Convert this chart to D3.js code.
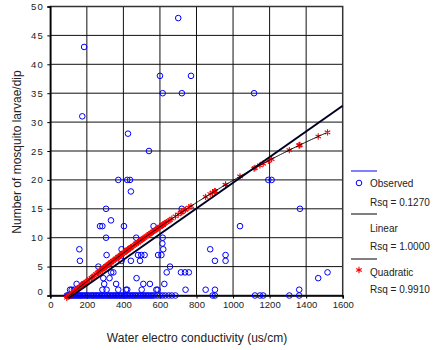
<!DOCTYPE html>
<html>
<head>
<meta charset="utf-8">
<script src="https://cdn.jsdelivr.net/npm/d3@7"></script>
<style>
  body { margin: 0; background: #fff; }
  text { font-family: Arial, "Liberation Sans", sans-serif; }
</style>
</head>
<body>
<div id="chart"></div>
<script>
// observed points (x = conductivity, y = larvae/dip)
var obsHighX = [175, 185, 425, 540, 600, 615, 700, 720, 770, 1115, 372, 421, 436, 1193, 1211, 441, 305, 719, 1366, 332];
var obsHighY = [31, 43, 28, 25, 38, 35, 48, 35, 38, 35, 20, 20, 20, 20, 20, 18, 15, 15, 15, 13];

var obsMidX = [272, 285, 403, 565, 1038, 305, 470, 615, 613, 159, 390, 618, 875,
  308, 480, 498, 516, 590, 608, 959, 162, 390, 441, 491, 901, 959, 263, 655,
  333, 345, 637, 715, 737, 758, 1517, 290, 324, 472, 1466];
var obsMidY = [12, 12, 12, 12, 12, 10, 10, 10, 9, 8, 8, 8, 8,
  7, 7, 7, 7, 7, 7, 7, 6, 6, 6, 6, 6, 6, 5, 5,
  4, 4, 4, 4, 4, 4, 4, 3, 3, 3, 3];

var obsLowX = [144, 181, 295, 360, 509, 545, 624,
  108, 117, 130, 285, 308, 372, 414, 421, 500, 580, 587, 740, 850, 901, 1362];
var obsLowY = [2, 2, 2, 2, 2, 2, 2,
  1, 1, 1, 1, 1, 1, 1, 1, 1, 1, 1, 1, 1, 1, 1];

// zero counts
var obsZeroX = [90, 97, 103, 110, 118, 125, 135, 142, 150, 158, 165, 172, 180, 190, 198,
  205, 215, 225, 232, 240, 250, 258, 265, 275, 283, 292, 300, 310, 318, 326, 335, 343,
  352, 360, 368, 377, 385, 393, 402, 410, 418, 427, 435, 445, 453, 462, 470, 480, 490,
  498, 507, 515, 525, 533, 542, 552, 560, 570, 585, 600, 615, 630, 648, 665, 685,
  888, 901, 1120, 1147, 1165, 1308, 1362];

// fitted models
var linCoef = [-2.7, 0.0222];
var quadCoef = [-2.8, 0.0271, -0.00000438];

var xTicks = [0, 200, 400, 600, 800, 1000, 1200, 1400, 1600];
var yTicks = [0, 5, 10, 15, 20, 25, 30, 35, 40, 45, 50];

var legendItems = ["Observed", "Rsq = 0.1270", "Linear", "Rsq = 1.0000", "Quadratic", "Rsq = 0.9910"];

var observed = [];
function addPts(xs, ys) {
  xs.forEach(function(d, i) { observed.push({x: d, y: ys === null ? 0 : ys[i]}); });
}
addPts(obsZeroX, null);
addPts(obsLowX, obsLowY);
addPts(obsMidX, obsMidY);
addPts(obsHighX, obsHighY);

function quad(x) { return quadCoef[0] + quadCoef[1] * x + quadCoef[2] * x * x; }
function lin(x) { return linCoef[0] + linCoef[1] * x; }

var svg = d3.select("#chart").append("svg")
  .attr("width", 433)
  .attr("height", 350);

var x = d3.scaleLinear().domain([0, 1600]).range([50.3, 342.7]);
var y = d3.scaleLinear().domain([0, 50]).range([295.5, 6.5]);

// grid
svg.append("g").selectAll("line.vg")
  .data(xTicks.slice(1, -1))
  .enter().append("line")
  .attr("x1", function(d) { return x(d); })
  .attr("x2", function(d) { return x(d); })
  .attr("y1", y(0)).attr("y2", y(50))
  .attr("stroke", "#111").attr("stroke-width", 1);

svg.append("g").selectAll("line.hg")
  .data(yTicks.slice(1, -1))
  .enter().append("line")
  .attr("y1", function(d) { return y(d); })
  .attr("y2", function(d) { return y(d); })
  .attr("x1", x(0)).attr("x2", x(1600))
  .attr("stroke", "#111").attr("stroke-width", 1);

// frame
svg.append("rect")
  .attr("x", x(0)).attr("y", y(50))
  .attr("width", x(1600) - x(0))
  .attr("height", y(0) - y(50))
  .attr("fill", "none")
  .attr("stroke", "#333")
  .attr("stroke-width", 1.5);

// axes
var xAxis = svg.append("g")
  .attr("transform", "translate(0," + y(0) + ")")
  .call(d3.axisBottom(x).tickValues(xTicks).tickFormat(d3.format("d")).tickSize(3).tickPadding(3));
xAxis.select(".domain").attr("stroke", "#000").attr("stroke-width", 1.5);
xAxis.selectAll("text").attr("font-size", "9.5px").attr("fill", "#222")
  .attr("font-family", "Arial, 'Liberation Sans', sans-serif");

var yAxis = svg.append("g")
  .attr("transform", "translate(" + x(0) + ",0)")
  .call(d3.axisLeft(y).tickValues(yTicks).tickSize(3).tickPadding(3));
yAxis.select(".domain").attr("stroke", "#000").attr("stroke-width", 1.5);
yAxis.selectAll("text").attr("font-size", "9.5px").attr("fill", "#222")
  .attr("letter-spacing", "1.4px")
  .attr("font-family", "Arial, 'Liberation Sans', sans-serif")
  .attr("dy", function(d) { return d === 0 ? "-0.15em" : "0.32em"; });

// observed circles
svg.append("g").selectAll("circle")
  .data(observed)
  .enter().append("circle")
  .attr("cx", function(d) { return x(d.x); })
  .attr("cy", function(d) { return y(d.y); })
  .attr("r", 2.8)
  .attr("fill", "none")
  .attr("stroke", "#0000ff")
  .attr("stroke-width", 1);

// quadratic predictions
var star = d3.symbol().type(d3.symbolAsterisk).size(28);
svg.append("g").selectAll("path")
  .data(observed)
  .enter().append("path")
  .attr("d", star)
  .attr("transform", function(d) { return "translate(" + x(d.x) + "," + y(quad(d.x)) + ")"; })
  .attr("fill", "none")
  .attr("stroke", "#ff0000")
  .attr("stroke-width", 1.1);

var xs = observed.map(function(d) { return d.x; }).sort(d3.ascending);
var xMin = xs[0], xMax = xs[xs.length - 1];

svg.append("path")
  .datum(d3.range(xMin, xMax + 1, 10))
  .attr("d", d3.line().x(function(d) { return x(d); }).y(function(d) { return y(quad(d)); }))
  .attr("fill", "none")
  .attr("stroke", "#000")
  .attr("stroke-width", 0.9);

svg.append("line")
  .attr("x1", x(100)).attr("y1", y(lin(100)))
  .attr("x2", x(1600)).attr("y2", y(lin(1600)))
  .attr("stroke", "#000022")
  .attr("stroke-width", 2);

// legend
var lg = svg.append("g");
lg.append("line").attr("x1", 351).attr("x2", 377).attr("y1", 171).attr("y2", 171)
  .attr("stroke", "#0000ff").attr("stroke-width", 1);
lg.append("circle").attr("cx", 359).attr("cy", 183).attr("r", 2.8)
  .attr("fill", "none").attr("stroke", "#0000ff");
lg.append("line").attr("x1", 351).attr("x2", 377).attr("y1", 214).attr("y2", 214)
  .attr("stroke", "#000").attr("stroke-width", 1);
lg.append("line").attr("x1", 351).attr("x2", 377).attr("y1", 259).attr("y2", 259)
  .attr("stroke", "#000").attr("stroke-width", 1);
lg.append("path").attr("d", star).attr("transform", "translate(359,270)")
  .attr("fill", "none").attr("stroke", "#ff0000").attr("stroke-width", 1.1);

var legY = [183, 202, 228, 246, 272, 289];
lg.selectAll("text")
  .data(legendItems)
  .enter().append("text")
  .attr("x", 370)
  .attr("y", function(d, i) { return legY[i]; })
  .attr("dy", "0.35em")
  .attr("font-size", "10px")
  .attr("fill", "#222")
  .text(function(d) { return d; });

// axis titles
svg.append("text")
  .attr("x", 197).attr("y", 338)
  .attr("dy", "0.35em")
  .attr("text-anchor", "middle")
  .attr("font-size", "12px")
  .attr("fill", "#222")
  .text("Water electro conductivity (us/cm)");

svg.append("text")
  .attr("transform", "translate(17,152) rotate(-90)")
  .attr("dy", "0.35em")
  .attr("text-anchor", "middle")
  .attr("font-size", "12px")
  .attr("fill", "#222")
  .text("Number of mosquito larvae/dip");
</script>
</body>
</html>
